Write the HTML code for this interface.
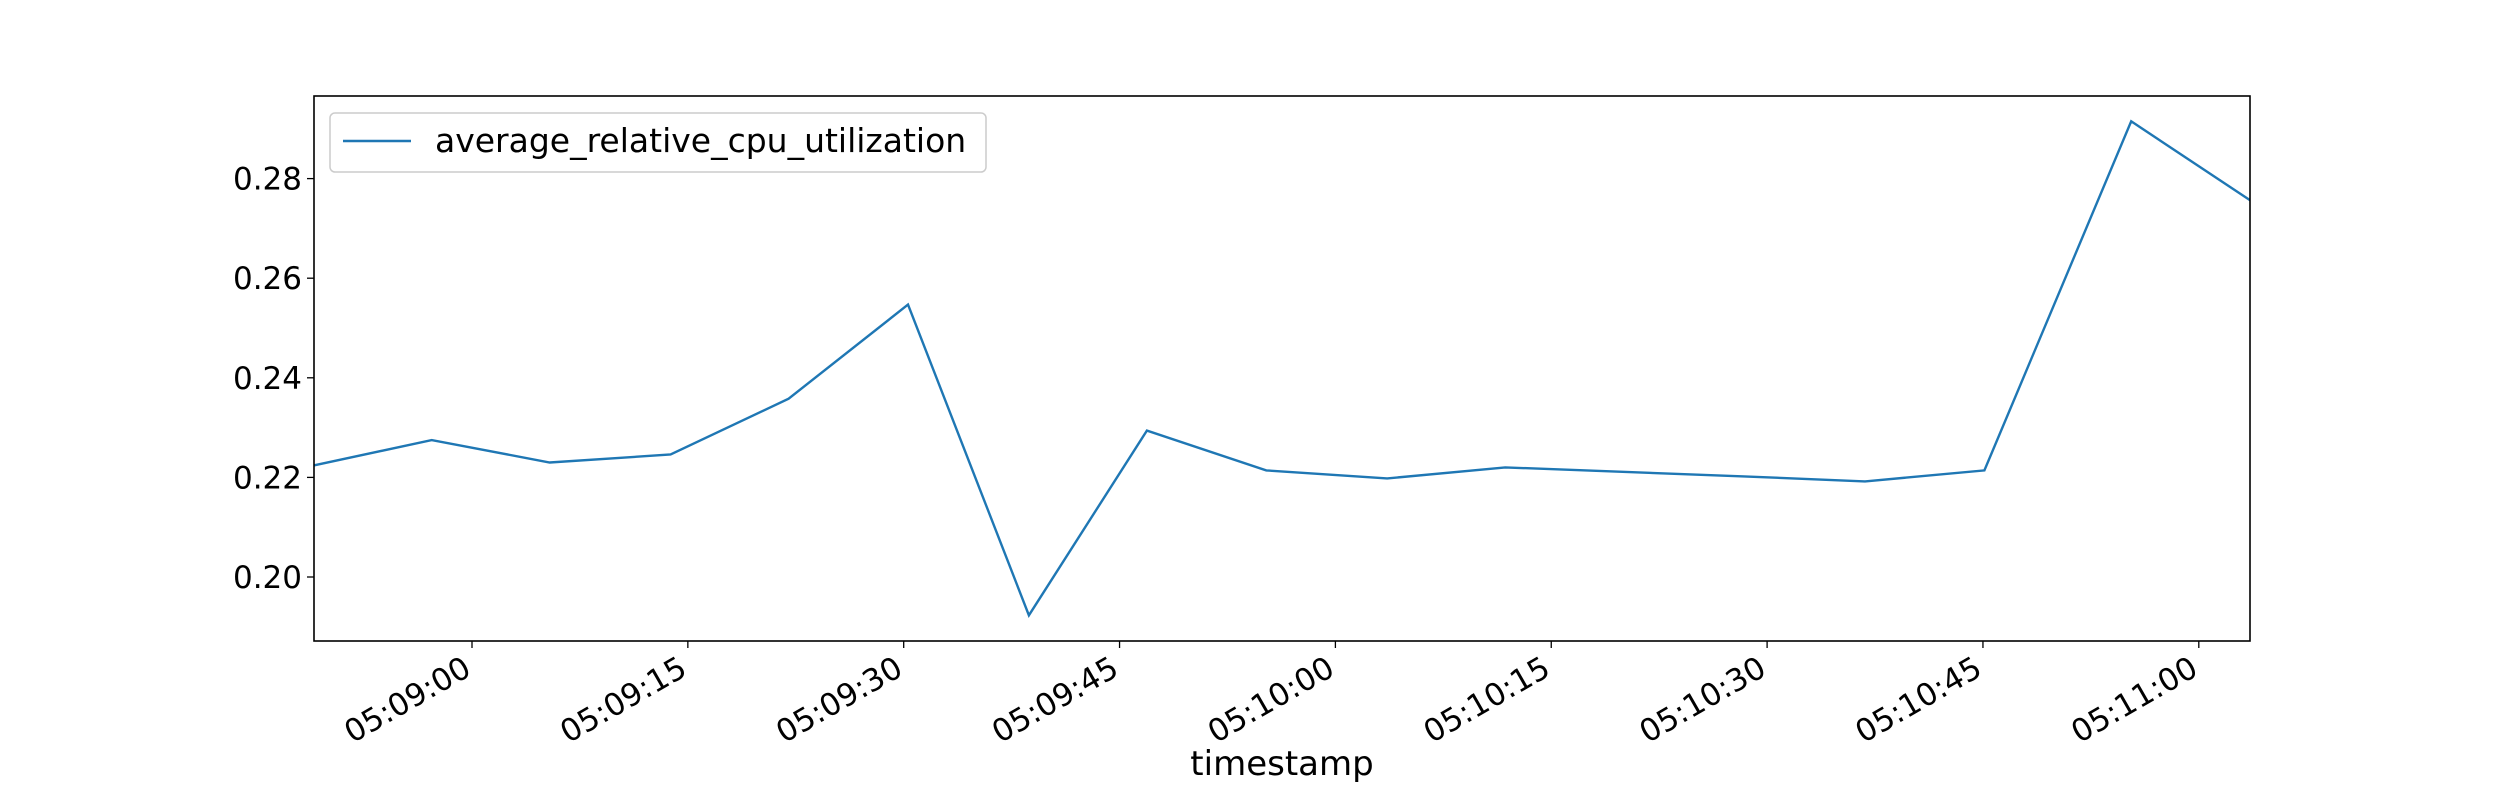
<!DOCTYPE html>
<html><head><meta charset="utf-8"><style>
html,body{margin:0;padding:0;background:#fff;}
svg{display:block;font-family:"DejaVu Sans","Liberation Sans",sans-serif;}
</style></head><body>
<svg id="chart" width="2500" height="800" viewBox="0 0 2500 800">
<g id="axes"></g>
</svg>
<script>
const secondsAfter0509 = [-11, -2.8, 5.4, 13.8, 22, 30.3, 38.7, 46.9, 55.2, 63.6, 71.8, 88.4, 96.8, 105.1, 115.3, 123.9];
const cpuValues = [0.2224, 0.2275, 0.2230, 0.2246, 0.2358, 0.2547, 0.1923, 0.2294, 0.2214, 0.2198, 0.2220, 0.2202, 0.2192, 0.2214, 0.2915, 0.2750];
const yTicks = [0.20, 0.22, 0.24, 0.26, 0.28];
const xTickSeconds = [0, 15, 30, 45, 60, 75, 90, 105, 120];
const xTickLabels = ["05:09:00","05:09:15","05:09:30","05:09:45","05:10:00","05:10:15","05:10:30","05:10:45","05:11:00"];

const L=314, R=2250, T=96, B=641;
const xScale = s => 472 + (s-0)*14.39;
const yScale = v => 577 - (v-0.20)/0.08*398.4;
const NS="http://www.w3.org/2000/svg";
const g=document.getElementById('axes');
function mk(tag, attrs){const e=document.createElementNS(NS,tag);for(const k in attrs)e.setAttribute(k,attrs[k]);g.appendChild(e);return e;}

const pts = secondsAfter0509.map((s,i)=>xScale(s).toFixed(1)+","+yScale(cpuValues[i]).toFixed(1)).join(" ");
const clip=document.createElementNS(NS,'clipPath');clip.setAttribute('id','pc');
const cr=document.createElementNS(NS,'rect');cr.setAttribute('x',L);cr.setAttribute('y',T);cr.setAttribute('width',R-L);cr.setAttribute('height',B-T);clip.appendChild(cr);g.appendChild(clip);
const line=mk('polyline',{points:pts,fill:'none',stroke:'#1f77b4','stroke-width':2.4,'clip-path':'url(#pc)'});



const frame=mk('rect',{x:L,y:T,width:R-L,height:B-T,fill:'none',stroke:'#000','stroke-width':1.6});



yTicks.forEach(v=>{
  const y=yScale(v);
  const t=mk('line',{x1:L-7,x2:L,y1:y,y2:y,stroke:'#000','stroke-width':1.3});
  
  
  const tx=mk('text',{x:L-12,y:y+11,'text-anchor':'end','font-size':31});
  tx.textContent=v.toFixed(2);
  
  
});
xTickSeconds.forEach((s,i)=>{
  const x=xScale(s);
  const t=mk('line',{x1:x,x2:x,y1:B,y2:B+7,stroke:'#000','stroke-width':1.3});
  
  
  const tx=mk('text',{x:0,y:0,'text-anchor':'end','font-size':31,transform:`translate(${x+1},${B+33}) rotate(-30)`});
  tx.textContent=xTickLabels[i];
  
  
});
const xl=mk('text',{x:(L+R)/2,y:775,'text-anchor':'middle','font-size':34});
xl.textContent='timestamp';



const lb=mk('rect',{x:330,y:113,width:656,height:59,rx:5,fill:'#fff',stroke:'#ccc','stroke-width':1.5});


const ll=mk('line',{x1:343,x2:411,y1:141,y2:141,stroke:'#1f77b4','stroke-width':2.4});


const lt=mk('text',{x:435,y:152,'font-size':33});
lt.textContent='average_relative_cpu_utilization';


</script>
</body></html>
